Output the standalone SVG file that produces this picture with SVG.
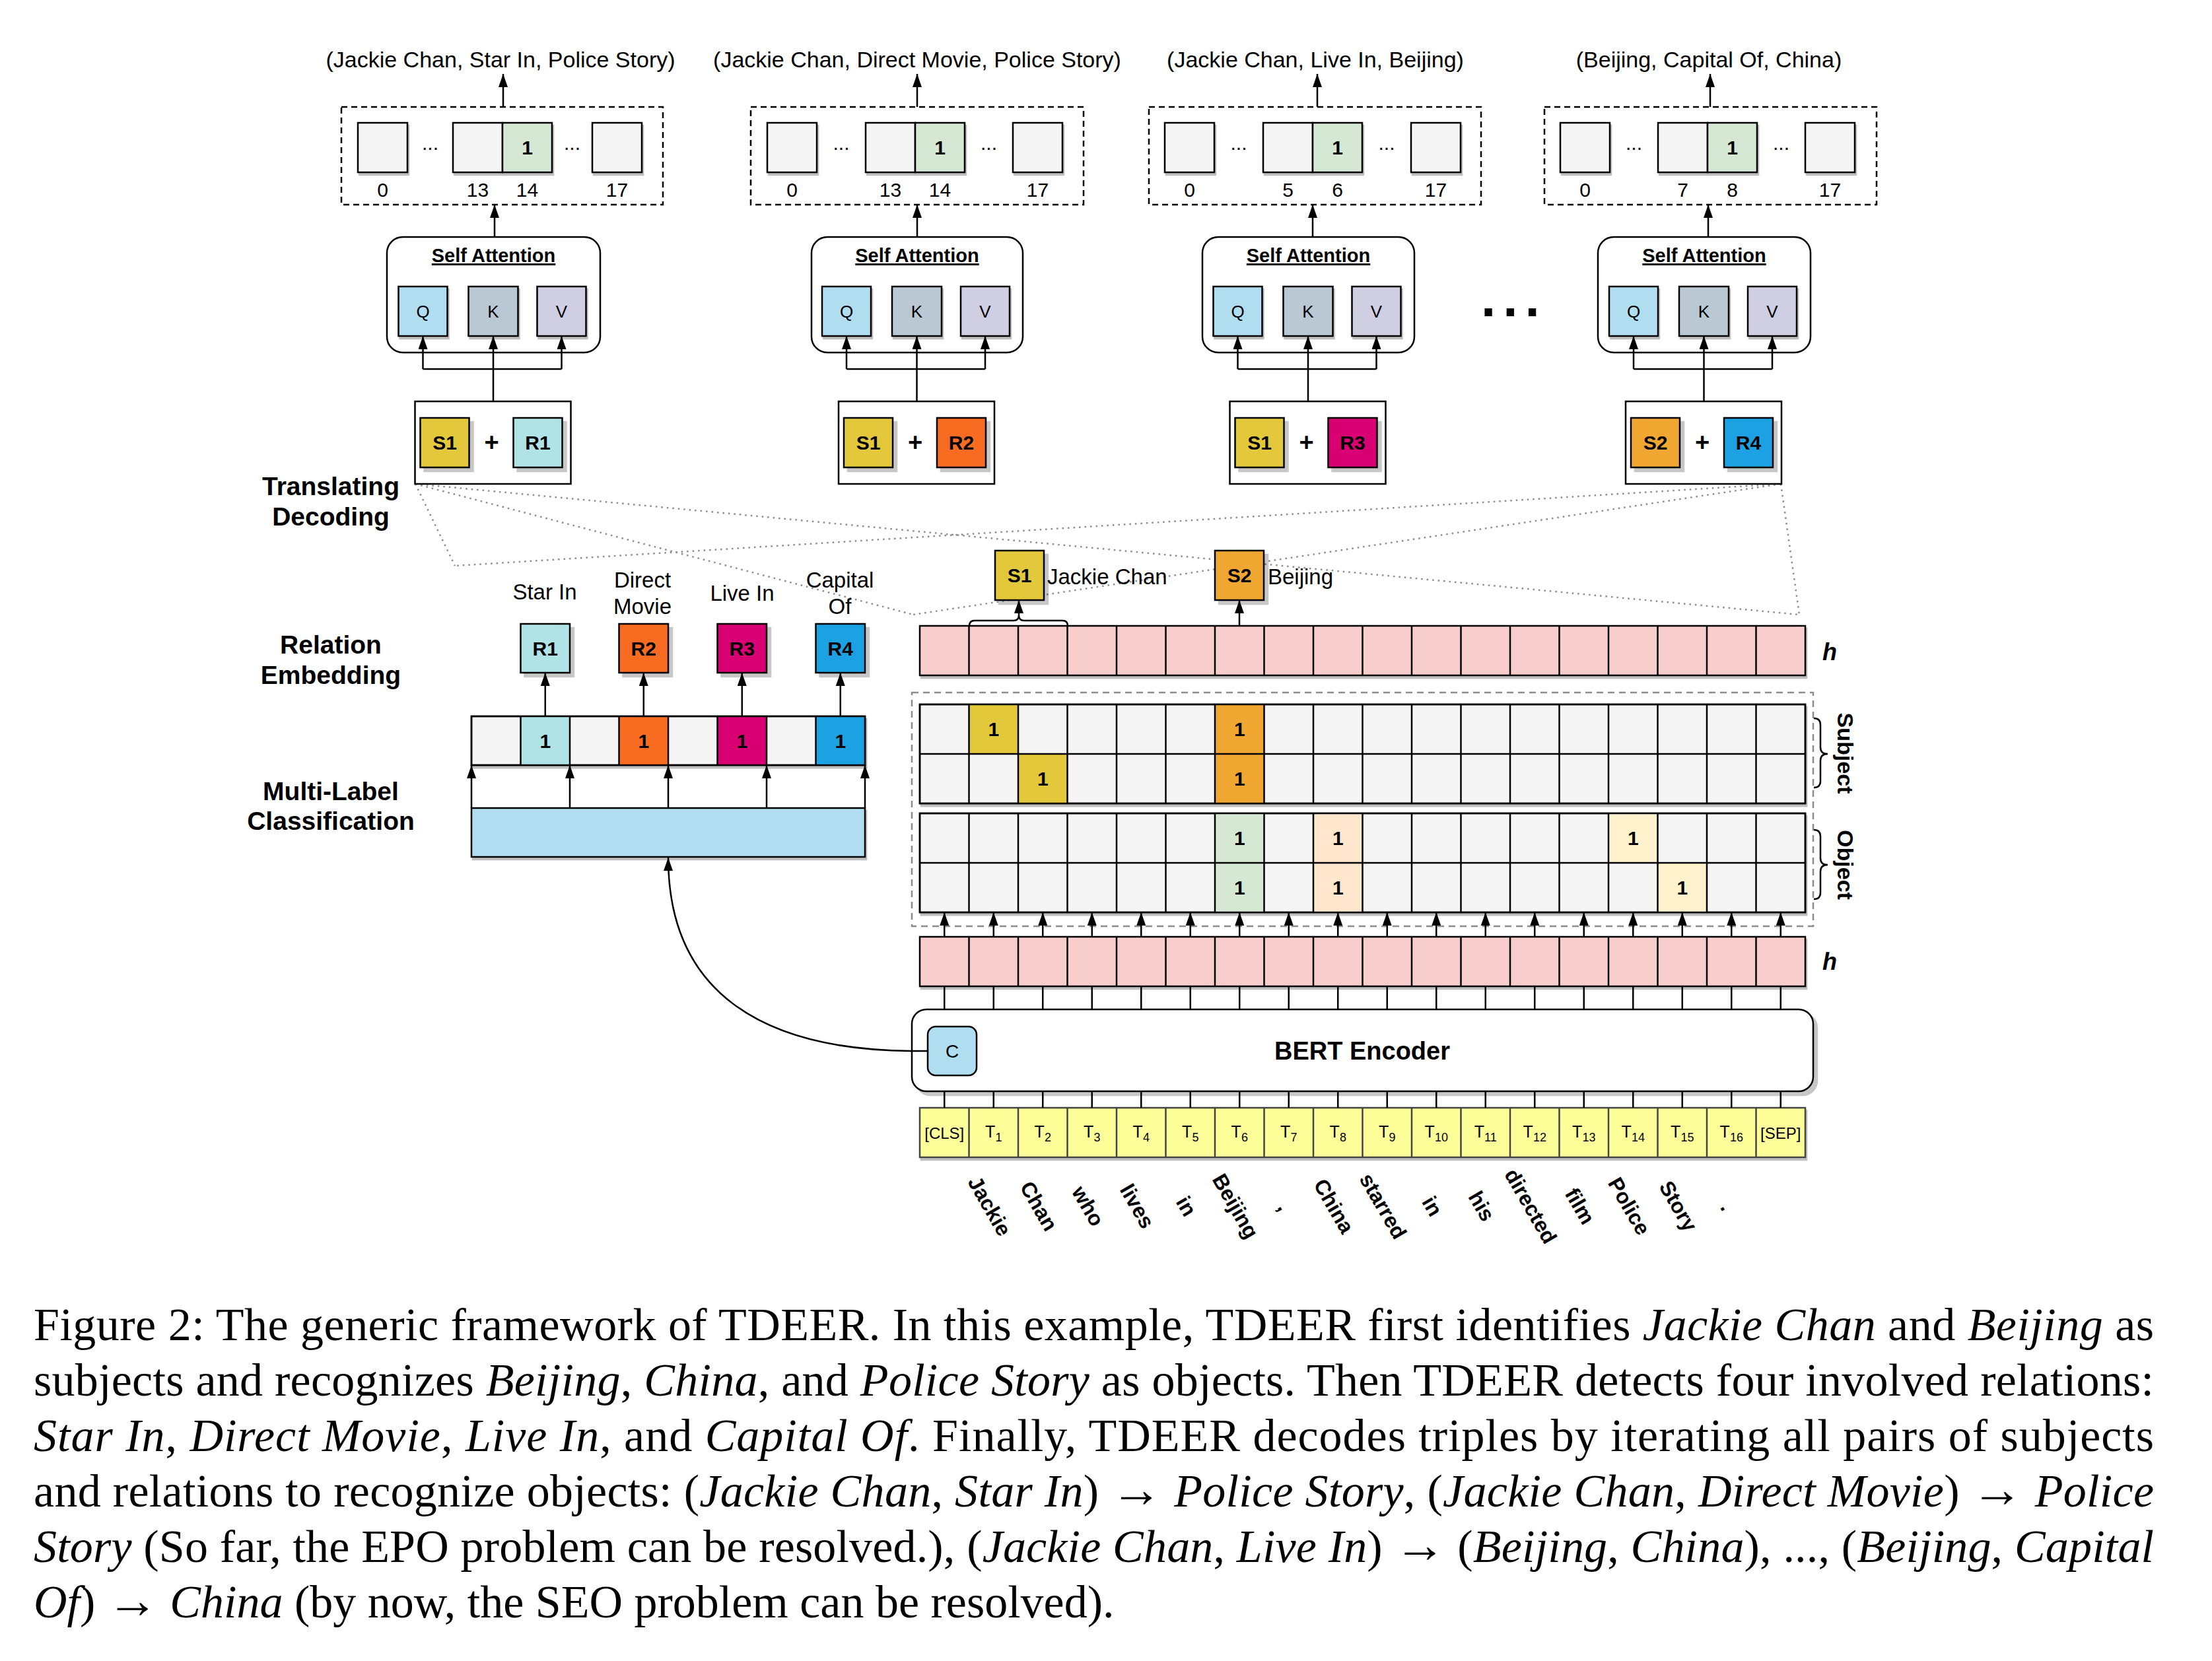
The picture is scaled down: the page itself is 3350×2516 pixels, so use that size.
<svg xmlns="http://www.w3.org/2000/svg" width="3350" height="2516" viewBox="0 0 3350 2516">
<defs>
<marker id="ah" markerWidth="20" markerHeight="14" refX="20" refY="7" orient="auto" markerUnits="userSpaceOnUse"><path d="M0,0 L20,7 L0,14 z" fill="#000"/></marker>
<filter id="sh" x="-20%" y="-20%" width="150%" height="150%"><feOffset in="SourceAlpha" dx="6" dy="6" result="o"/><feFlood flood-color="#000" flood-opacity="0.22"/><feComposite in2="o" operator="in"/><feMerge><feMergeNode/><feMergeNode in="SourceGraphic"/></feMerge></filter>
<filter id="sh2" x="-5%" y="-20%" width="110%" height="150%"><feOffset in="SourceAlpha" dx="2" dy="4" result="o"/><feFlood flood-color="#000" flood-opacity="0.25"/><feComposite in2="o" operator="in"/><feMerge><feMergeNode/><feMergeNode in="SourceGraphic"/></feMerge></filter>
</defs>
<style>
.t{font-family:"Liberation Sans",Arial,sans-serif;fill:#000}
.b{font-weight:bold}
.m{text-anchor:middle}
.c{stroke:#000;stroke-width:2.5;fill:none}
.a{stroke:#000;stroke-width:2.5;fill:none;marker-end:url(#ah)}
.cell{fill:#f5f5f5;stroke:#000;stroke-width:2.5}
.box{stroke:#000;stroke-width:2.5}
.dash{fill:none;stroke:#000;stroke-width:2.5;stroke-dasharray:9 6}
.dot{stroke:#8c8c8c;stroke-width:2.5;stroke-dasharray:2.5 6;fill:none}
.cap{font-family:"Liberation Serif","Times New Roman",serif;font-size:70px;fill:#000}
.i{font-style:italic}
.ar{font-size:78px}
</style>
<rect x="0" y="0" width="3350" height="2516" fill="#fff"/>

<!-- dotted projection lines -->
<g id="projection">
<path class="dot" d="M629,733L689,857M629,733L1383,931M629,733L2725,931M2697,733L689,857M2697,733L1383,931M2697,733L2725,931"/>
</g>

<!-- ===== Column 1 ===== -->
<g id="triple1"><text class="t m" x="758" y="102" font-size="34">(Jackie Chan, Star In, Police Story)</text></g>
<g id="decode1">
<rect class="dash" x="517" y="162" width="487" height="148"/>
<g filter="url(#sh2)">
<rect class="cell" x="542" y="186" width="75" height="75"/>
<rect class="cell" x="686" y="186" width="75" height="75"/>
<rect class="box" x="761" y="186" width="75" height="75" fill="#d5e8d4"/>
<rect class="cell" x="897" y="186" width="75" height="75"/>
</g>
<text class="t m b" x="798.5" y="234" font-size="30">1</text>
<text class="t m" x="651.5" y="227" font-size="30">...</text>
<text class="t m" x="866.5" y="227" font-size="30">...</text>
<text class="t m" x="579.5" y="298" font-size="30">0</text>
<text class="t m" x="723.5" y="298" font-size="30">13</text>
<text class="t m" x="798.5" y="298" font-size="30">14</text>
<text class="t m" x="934.5" y="298" font-size="30">17</text>
</g>
<g id="sa1">
<rect class="box" x="586" y="359" width="323" height="175" rx="24" fill="#fff"/>
<text class="t m b" x="747.5" y="397" font-size="29" text-decoration="underline">Self Attention</text>
<g filter="url(#sh2)">
<rect class="box" x="603.5" y="434" width="74" height="75" fill="#b1ddf0"/>
<rect class="box" x="709.5" y="434" width="75" height="75" fill="#bac8d3"/>
<rect class="box" x="813.5" y="434" width="74" height="75" fill="#d0cee2"/>
</g>
<text class="t m" x="640.5" y="481" font-size="26">Q</text>
<text class="t m" x="747" y="481" font-size="26">K</text>
<text class="t m" x="850.5" y="481" font-size="26">V</text>
</g>
<g id="in1">
<rect class="box" x="628.5" y="608" width="236" height="125" fill="#fff"/>
<rect class="box" x="636.5" y="633" width="74" height="75" fill="#e3c83a" filter="url(#sh)"/>
<rect class="box" x="777.5" y="633" width="74" height="75" fill="#b0e3e6" filter="url(#sh)"/>
<text class="t m b" x="673.5" y="681" font-size="30">S1</text>
<text class="t m b" x="744.5" y="683" font-size="38">+</text>
<text class="t m b" x="814.5" y="681" font-size="30">R1</text>
</g>

<!-- ===== Column 2 ===== -->
<g id="triple2"><text class="t m" x="1389" y="102" font-size="34">(Jackie Chan, Direct Movie, Police Story)</text></g>
<g id="decode2">
<rect class="dash" x="1137" y="162" width="504" height="148"/>
<g filter="url(#sh2)">
<rect class="cell" x="1162" y="186" width="75" height="75"/>
<rect class="cell" x="1311" y="186" width="75" height="75"/>
<rect class="box" x="1386" y="186" width="75" height="75" fill="#d5e8d4"/>
<rect class="cell" x="1534" y="186" width="75" height="75"/>
</g>
<text class="t m b" x="1423.5" y="234" font-size="30">1</text>
<text class="t m" x="1274" y="227" font-size="30">...</text>
<text class="t m" x="1497.5" y="227" font-size="30">...</text>
<text class="t m" x="1199.5" y="298" font-size="30">0</text>
<text class="t m" x="1348.5" y="298" font-size="30">13</text>
<text class="t m" x="1423.5" y="298" font-size="30">14</text>
<text class="t m" x="1571.5" y="298" font-size="30">17</text>
</g>
<g id="sa2">
<rect class="box" x="1229" y="359" width="320" height="175" rx="24" fill="#fff"/>
<text class="t m b" x="1389" y="397" font-size="29" text-decoration="underline">Self Attention</text>
<g filter="url(#sh2)">
<rect class="box" x="1245" y="434" width="74" height="75" fill="#b1ddf0"/>
<rect class="box" x="1351" y="434" width="75" height="75" fill="#bac8d3"/>
<rect class="box" x="1455" y="434" width="74" height="75" fill="#d0cee2"/>
</g>
<text class="t m" x="1282" y="481" font-size="26">Q</text>
<text class="t m" x="1388.5" y="481" font-size="26">K</text>
<text class="t m" x="1492" y="481" font-size="26">V</text>
</g>
<g id="in2">
<rect class="box" x="1270" y="608" width="236" height="125" fill="#fff"/>
<rect class="box" x="1278" y="633" width="74" height="75" fill="#e3c83a" filter="url(#sh)"/>
<rect class="box" x="1419" y="633" width="74" height="75" fill="#f86c24" filter="url(#sh)"/>
<text class="t m b" x="1315" y="681" font-size="30">S1</text>
<text class="t m b" x="1386" y="683" font-size="38">+</text>
<text class="t m b" x="1456" y="681" font-size="30">R2</text>
</g>

<!-- ===== Column 3 ===== -->
<g id="triple3"><text class="t m" x="1992" y="102" font-size="34">(Jackie Chan, Live In, Beijing)</text></g>
<g id="decode3">
<rect class="dash" x="1740" y="162" width="503" height="148"/>
<g filter="url(#sh2)">
<rect class="cell" x="1764" y="186" width="75" height="75"/>
<rect class="cell" x="1913" y="186" width="75" height="75"/>
<rect class="box" x="1988" y="186" width="75" height="75" fill="#d5e8d4"/>
<rect class="cell" x="2137" y="186" width="75" height="75"/>
</g>
<text class="t m b" x="2025.5" y="234" font-size="30">1</text>
<text class="t m" x="1876" y="227" font-size="30">...</text>
<text class="t m" x="2100" y="227" font-size="30">...</text>
<text class="t m" x="1801.5" y="298" font-size="30">0</text>
<text class="t m" x="1950.5" y="298" font-size="30">5</text>
<text class="t m" x="2025.5" y="298" font-size="30">6</text>
<text class="t m" x="2174.5" y="298" font-size="30">17</text>
</g>
<g id="sa3">
<rect class="box" x="1821" y="359" width="321" height="175" rx="24" fill="#fff"/>
<text class="t m b" x="1981.5" y="397" font-size="29" text-decoration="underline">Self Attention</text>
<g filter="url(#sh2)">
<rect class="box" x="1837.5" y="434" width="74" height="75" fill="#b1ddf0"/>
<rect class="box" x="1943.5" y="434" width="75" height="75" fill="#bac8d3"/>
<rect class="box" x="2047.5" y="434" width="74" height="75" fill="#d0cee2"/>
</g>
<text class="t m" x="1874.5" y="481" font-size="26">Q</text>
<text class="t m" x="1981" y="481" font-size="26">K</text>
<text class="t m" x="2084.5" y="481" font-size="26">V</text>
</g>
<g id="in3">
<rect class="box" x="1862.5" y="608" width="236" height="125" fill="#fff"/>
<rect class="box" x="1870.5" y="633" width="74" height="75" fill="#e3c83a" filter="url(#sh)"/>
<rect class="box" x="2011.5" y="633" width="74" height="75" fill="#d80073" filter="url(#sh)"/>
<text class="t m b" x="1907.5" y="681" font-size="30">S1</text>
<text class="t m b" x="1978.5" y="683" font-size="38">+</text>
<text class="t m b" x="2048.5" y="681" font-size="30">R3</text>
</g>

<g id="ellipsis"><text class="t b" x="2243" y="479" font-size="80" letter-spacing="11">...</text></g>

<!-- ===== Column 4 ===== -->
<g id="triple4"><text class="t m" x="2588" y="102" font-size="34">(Beijing, Capital Of, China)</text></g>
<g id="decode4">
<rect class="dash" x="2339" y="162" width="503" height="148"/>
<g filter="url(#sh2)">
<rect class="cell" x="2363" y="186" width="75" height="75"/>
<rect class="cell" x="2511" y="186" width="75" height="75"/>
<rect class="box" x="2586" y="186" width="75" height="75" fill="#d5e8d4"/>
<rect class="cell" x="2734" y="186" width="75" height="75"/>
</g>
<text class="t m b" x="2623.5" y="234" font-size="30">1</text>
<text class="t m" x="2474.5" y="227" font-size="30">...</text>
<text class="t m" x="2697.5" y="227" font-size="30">...</text>
<text class="t m" x="2400.5" y="298" font-size="30">0</text>
<text class="t m" x="2548.5" y="298" font-size="30">7</text>
<text class="t m" x="2623.5" y="298" font-size="30">8</text>
<text class="t m" x="2771.5" y="298" font-size="30">17</text>
</g>
<g id="sa4">
<rect class="box" x="2420" y="359" width="322" height="175" rx="24" fill="#fff"/>
<text class="t m b" x="2581" y="397" font-size="29" text-decoration="underline">Self Attention</text>
<g filter="url(#sh2)">
<rect class="box" x="2437" y="434" width="74" height="75" fill="#b1ddf0"/>
<rect class="box" x="2543" y="434" width="75" height="75" fill="#bac8d3"/>
<rect class="box" x="2647" y="434" width="74" height="75" fill="#d0cee2"/>
</g>
<text class="t m" x="2474" y="481" font-size="26">Q</text>
<text class="t m" x="2580.5" y="481" font-size="26">K</text>
<text class="t m" x="2684" y="481" font-size="26">V</text>
</g>
<g id="in4">
<rect class="box" x="2462" y="608" width="236" height="125" fill="#fff"/>
<rect class="box" x="2470" y="633" width="74" height="75" fill="#f0a732" filter="url(#sh)"/>
<rect class="box" x="2611" y="633" width="74" height="75" fill="#1ba1e2" filter="url(#sh)"/>
<text class="t m b" x="2507" y="681" font-size="30">S2</text>
<text class="t m b" x="2578" y="683" font-size="38">+</text>
<text class="t m b" x="2648" y="681" font-size="30">R4</text>
</g>

<!-- ===== Left labels ===== -->
<g id="lbl_td"><text class="t m b" x="501" y="750" font-size="39">Translating</text><text class="t m b" x="501" y="796" font-size="39">Decoding</text></g>
<g id="lbl_re"><text class="t m b" x="501" y="990" font-size="39">Relation</text><text class="t m b" x="501" y="1036" font-size="39">Embedding</text></g>
<g id="lbl_mlc"><text class="t m b" x="501" y="1212" font-size="39">Multi-Label</text><text class="t m b" x="501" y="1257" font-size="39">Classification</text></g>

<!-- relation names -->
<g id="relnames">
<text class="t m" x="825" y="908" font-size="33">Star In</text>
<text class="t m" x="973" y="890" font-size="33">Direct</text>
<text class="t m" x="973" y="930" font-size="33">Movie</text>
<text class="t m" x="1124" y="910" font-size="33">Live In</text>
<text class="t m" x="1272" y="890" font-size="33">Capital</text>
<text class="t m" x="1272" y="930" font-size="33">Of</text>
</g>
<g id="relemb">
<rect class="box" x="788.5" y="945" width="74.5" height="74" fill="#b0e3e6" filter="url(#sh)"/>
<rect class="box" x="937.5" y="945" width="74.5" height="74" fill="#f86c24" filter="url(#sh)"/>
<rect class="box" x="1086.5" y="945" width="74.5" height="74" fill="#d80073" filter="url(#sh)"/>
<rect class="box" x="1235.5" y="945" width="74.5" height="74" fill="#1ba1e2" filter="url(#sh)"/>
<text class="t m b" x="825.75" y="993" font-size="30">R1</text>
<text class="t m b" x="974.75" y="993" font-size="30">R2</text>
<text class="t m b" x="1123.75" y="993" font-size="30">R3</text>
<text class="t m b" x="1272.75" y="993" font-size="30">R4</text>
</g>
<g id="mlrow">
<g filter="url(#sh2)">
<rect class="cell" x="714" y="1085" width="596" height="74"/>
<rect x="788.5" y="1085" width="74.5" height="74" fill="#b0e3e6"/>
<rect x="937.5" y="1085" width="74.5" height="74" fill="#f86c24"/>
<rect x="1086.5" y="1085" width="74.5" height="74" fill="#d80073"/>
<rect x="1235.5" y="1085" width="74.5" height="74" fill="#1ba1e2"/>
<rect x="714" y="1085" width="596" height="74" fill="none" stroke="#000" stroke-width="2.5"/>
<path class="c" d="M788.5,1085v74M863,1085v74M937.5,1085v74M1012,1085v74M1086.5,1085v74M1161,1085v74M1235.5,1085v74"/>
</g>
<text class="t m b" x="825.75" y="1133" font-size="30">1</text>
<text class="t m b" x="974.75" y="1133" font-size="30">1</text>
<text class="t m b" x="1123.75" y="1133" font-size="30">1</text>
<text class="t m b" x="1272.75" y="1133" font-size="30">1</text>
</g>
<g id="clsbar"><rect class="box" x="714" y="1224" width="596" height="74" fill="#b1ddf0" filter="url(#sh2)"/></g>

<!-- ===== Right section ===== -->
<g id="subj1">
<rect class="box" x="1507" y="834" width="74" height="75" fill="#e3c83a" filter="url(#sh)"/>
<text class="t m b" x="1544" y="882" font-size="30">S1</text>
<text class="t" x="1586" y="885" font-size="33">Jackie Chan</text>
</g>
<g id="subj2">
<rect class="box" x="1840" y="834" width="74" height="75" fill="#f0a732" filter="url(#sh)"/>
<text class="t m b" x="1877" y="882" font-size="30">S2</text>
<text class="t" x="1920" y="885" font-size="33">Beijing</text>
</g>

<g id="h_top">
<g filter="url(#sh2)">
<rect class="box" x="1393" y="948" width="1341" height="75" fill="#f8cecc"/>
<path class="c" d="M1467.5,948v75m74.5-75v75m74.5-75v75m74.5-75v75m74.5-75v75m74.5-75v75m74.5-75v75m74.5-75v75m74.5-75v75m74.5-75v75m74.5-75v75m74.5-75v75m74.5-75v75m74.5-75v75m74.5-75v75m74.5-75v75m74.5-75v75"/>
</g>
<text class="t m b" x="2771" y="1000" font-size="36" font-style="italic">h</text>
</g>

<g id="tagger">
<rect x="1381" y="1049" width="1365" height="354" fill="none" stroke="#8c8c8c" stroke-width="2.5" stroke-dasharray="10 7"/>
<g id="subjgrid" filter="url(#sh2)">
<rect class="cell" x="1393" y="1067" width="1341" height="150"/>
<rect x="1467.5" y="1067" width="74.5" height="75" fill="#e3c83a"/>
<rect x="1840" y="1067" width="74.5" height="150" fill="#f0a732"/>
<rect x="1542" y="1142" width="74.5" height="75" fill="#e3c83a"/>
<rect x="1393" y="1067" width="1341" height="150" fill="none" stroke="#000" stroke-width="2.5"/>
<path class="c" d="M1393,1142H2734M1467.5,1067v150m74.5-150v150m74.5-150v150m74.5-150v150m74.5-150v150m74.5-150v150m74.5-150v150m74.5-150v150m74.5-150v150m74.5-150v150m74.5-150v150m74.5-150v150m74.5-150v150m74.5-150v150m74.5-150v150m74.5-150v150m74.5-150v150"/>
</g>
<g id="objgrid" filter="url(#sh2)">
<rect class="cell" x="1393" y="1232" width="1341" height="150"/>
<rect x="1840" y="1232" width="74.5" height="150" fill="#d5e8d4"/>
<rect x="1989" y="1232" width="74.5" height="150" fill="#ffe6cc"/>
<rect x="2436" y="1232" width="74.5" height="75" fill="#fff2cc"/>
<rect x="2510.5" y="1307" width="74.5" height="75" fill="#fff2cc"/>
<rect x="1393" y="1232" width="1341" height="150" fill="none" stroke="#000" stroke-width="2.5"/>
<path class="c" d="M1393,1307H2734M1467.5,1232v150m74.5-150v150m74.5-150v150m74.5-150v150m74.5-150v150m74.5-150v150m74.5-150v150m74.5-150v150m74.5-150v150m74.5-150v150m74.5-150v150m74.5-150v150m74.5-150v150m74.5-150v150m74.5-150v150m74.5-150v150m74.5-150v150"/>
</g>
<g class="t m b" font-size="30">
<text x="1504.75" y="1115">1</text>
<text x="1877.25" y="1115">1</text>
<text x="1579.25" y="1190">1</text>
<text x="1877.25" y="1190">1</text>
<text x="1877.25" y="1280">1</text>
<text x="2026.25" y="1280">1</text>
<text x="2473.25" y="1280">1</text>
<text x="1877.25" y="1355">1</text>
<text x="2026.25" y="1355">1</text>
<text x="2547.75" y="1355">1</text>
</g>
</g>

<g id="braces">
<path class="c" d="M2747,1088Q2757,1088 2757,1098L2757,1132Q2757,1142 2768,1142Q2757,1142 2757,1152L2757,1183Q2757,1193 2747,1193"/>
<path class="c" d="M2747,1257Q2757,1257 2757,1267L2757,1300Q2757,1310 2768,1310Q2757,1310 2757,1320L2757,1352Q2757,1362 2747,1362"/>
<text class="t m b" font-size="34" dominant-baseline="central" transform="translate(2795,1141) rotate(90)">Subject</text>
<text class="t m b" font-size="34" dominant-baseline="central" transform="translate(2795,1310) rotate(90)">Object</text>
</g>

<g id="h_bottom">
<g filter="url(#sh2)">
<rect class="box" x="1393" y="1419" width="1341" height="75" fill="#f8cecc"/>
<path class="c" d="M1467.5,1419v75m74.5-75v75m74.5-75v75m74.5-75v75m74.5-75v75m74.5-75v75m74.5-75v75m74.5-75v75m74.5-75v75m74.5-75v75m74.5-75v75m74.5-75v75m74.5-75v75m74.5-75v75m74.5-75v75m74.5-75v75m74.5-75v75"/>
</g>
<text class="t m b" x="2771" y="1469" font-size="36" font-style="italic">h</text>
</g>

<g id="bert">
<rect class="box" x="1381" y="1529" width="1365" height="124" rx="22" fill="#fff" filter="url(#sh)"/>
<text class="t m b" x="2063" y="1605" font-size="38">BERT Encoder</text>
</g>
<g id="cls_vec">
<rect class="box" x="1405" y="1555" width="74" height="74" rx="12" fill="#b1ddf0"/>
<text class="t m" x="1442" y="1602" font-size="28">C</text>
</g>

<g id="tokens">
<g filter="url(#sh2)">
<rect x="1393" y="1678" width="1341" height="75" fill="#ffff99" stroke="#444" stroke-width="2.5"/>
<path d="M1467.5,1678v75m74.5-75v75m74.5-75v75m74.5-75v75m74.5-75v75m74.5-75v75m74.5-75v75m74.5-75v75m74.5-75v75m74.5-75v75m74.5-75v75m74.5-75v75m74.5-75v75m74.5-75v75m74.5-75v75m74.5-75v75m74.5-75v75" stroke="#444" stroke-width="2.5" fill="none"/>
</g>
<g class="t m" font-size="25">
<text x="1430.25" y="1725" font-size="24">[CLS]</text>
<text x="1504.75" y="1723">T<tspan font-size="18" dy="6">1</tspan></text>
<text x="1579.25" y="1723">T<tspan font-size="18" dy="6">2</tspan></text>
<text x="1653.75" y="1723">T<tspan font-size="18" dy="6">3</tspan></text>
<text x="1728.25" y="1723">T<tspan font-size="18" dy="6">4</tspan></text>
<text x="1802.75" y="1723">T<tspan font-size="18" dy="6">5</tspan></text>
<text x="1877.25" y="1723">T<tspan font-size="18" dy="6">6</tspan></text>
<text x="1951.75" y="1723">T<tspan font-size="18" dy="6">7</tspan></text>
<text x="2026.25" y="1723">T<tspan font-size="18" dy="6">8</tspan></text>
<text x="2100.75" y="1723">T<tspan font-size="18" dy="6">9</tspan></text>
<text x="2175.25" y="1723">T<tspan font-size="18" dy="6">10</tspan></text>
<text x="2249.75" y="1723">T<tspan font-size="18" dy="6">11</tspan></text>
<text x="2324.25" y="1723">T<tspan font-size="18" dy="6">12</tspan></text>
<text x="2398.75" y="1723">T<tspan font-size="18" dy="6">13</tspan></text>
<text x="2473.25" y="1723">T<tspan font-size="18" dy="6">14</tspan></text>
<text x="2547.75" y="1723">T<tspan font-size="18" dy="6">15</tspan></text>
<text x="2622.25" y="1723">T<tspan font-size="18" dy="6">16</tspan></text>
<text x="2696.75" y="1725" font-size="24">[SEP]</text>
</g>
</g>

<g id="words" class="t m b" font-size="32">
<text dominant-baseline="central" transform="translate(1498.75,1827) rotate(60)">Jackie</text>
<text dominant-baseline="central" transform="translate(1573.25,1827) rotate(60)">Chan</text>
<text dominant-baseline="central" transform="translate(1647.75,1827) rotate(60)">who</text>
<text dominant-baseline="central" transform="translate(1722.25,1827) rotate(60)">lives</text>
<text dominant-baseline="central" transform="translate(1796.75,1827) rotate(60)">in</text>
<text dominant-baseline="central" transform="translate(1871.25,1827) rotate(60)">Beijing</text>
<text dominant-baseline="central" transform="translate(1945.75,1827) rotate(60)">,</text>
<text dominant-baseline="central" transform="translate(2020.25,1827) rotate(60)">China</text>
<text dominant-baseline="central" transform="translate(2094.75,1827) rotate(60)">starred</text>
<text dominant-baseline="central" transform="translate(2169.25,1827) rotate(60)">in</text>
<text dominant-baseline="central" transform="translate(2243.75,1827) rotate(60)">his</text>
<text dominant-baseline="central" transform="translate(2318.25,1827) rotate(60)">directed</text>
<text dominant-baseline="central" transform="translate(2392.75,1827) rotate(60)">film</text>
<text dominant-baseline="central" transform="translate(2467.25,1827) rotate(60)">Police</text>
<text dominant-baseline="central" transform="translate(2541.75,1827) rotate(60)">Story</text>
<text dominant-baseline="central" transform="translate(2616.25,1827) rotate(60)">.</text>
</g>

<!-- ===== Connectors ===== -->
<g id="connectors">
<line class="a" x1="762" y1="162" x2="762" y2="112"/>
<line class="a" x1="749" y1="359" x2="749" y2="310"/>
<path class="c" d="M640.5,559H850.5"/>
<line class="a" x1="640.5" y1="559" x2="640.5" y2="509"/>
<line class="a" x1="850.5" y1="559" x2="850.5" y2="509"/>
<line class="a" x1="747" y1="608" x2="747" y2="509"/>

<line class="a" x1="1389" y1="162" x2="1389" y2="112"/>
<line class="a" x1="1389" y1="359" x2="1389" y2="310"/>
<path class="c" d="M1282,559H1492"/>
<line class="a" x1="1282" y1="559" x2="1282" y2="509"/>
<line class="a" x1="1492" y1="559" x2="1492" y2="509"/>
<line class="a" x1="1388.5" y1="608" x2="1388.5" y2="509"/>

<line class="a" x1="1995" y1="162" x2="1995" y2="112"/>
<line class="a" x1="1988" y1="359" x2="1988" y2="310"/>
<path class="c" d="M1874.5,559H2084.5"/>
<line class="a" x1="1874.5" y1="559" x2="1874.5" y2="509"/>
<line class="a" x1="2084.5" y1="559" x2="2084.5" y2="509"/>
<line class="a" x1="1981" y1="608" x2="1981" y2="509"/>

<line class="a" x1="2590" y1="162" x2="2590" y2="112"/>
<line class="a" x1="2587" y1="359" x2="2587" y2="310"/>
<path class="c" d="M2474,559H2684"/>
<line class="a" x1="2474" y1="559" x2="2474" y2="509"/>
<line class="a" x1="2684" y1="559" x2="2684" y2="509"/>
<line class="a" x1="2580.5" y1="608" x2="2580.5" y2="509"/>

<line class="a" x1="825.75" y1="1085" x2="825.75" y2="1019"/>
<line class="a" x1="974.75" y1="1085" x2="974.75" y2="1019"/>
<line class="a" x1="1123.75" y1="1085" x2="1123.75" y2="1019"/>
<line class="a" x1="1272.75" y1="1085" x2="1272.75" y2="1019"/>
<line class="a" x1="714" y1="1224" x2="714" y2="1159"/>
<line class="a" x1="863" y1="1224" x2="863" y2="1159"/>
<line class="a" x1="1012" y1="1224" x2="1012" y2="1159"/>
<line class="a" x1="1161" y1="1224" x2="1161" y2="1159"/>
<line class="a" x1="1310" y1="1224" x2="1310" y2="1159"/>
<path class="a" d="M1405,1592L1380,1592C1150,1590 1012,1500 1012,1299"/>

<path class="c" d="M1468,948Q1468,940 1476,940L1535,940Q1543,940 1543,932Q1543,940 1551,940L1609,940Q1617,940 1617,948"/>
<line class="a" x1="1543" y1="932" x2="1543" y2="909"/>
<line class="a" x1="1877" y1="948" x2="1877" y2="909"/>

<line class="a" x1="1430.25" y1="1419" x2="1430.25" y2="1382"/>
<line class="a" x1="1504.75" y1="1419" x2="1504.75" y2="1382"/>
<line class="a" x1="1579.25" y1="1419" x2="1579.25" y2="1382"/>
<line class="a" x1="1653.75" y1="1419" x2="1653.75" y2="1382"/>
<line class="a" x1="1728.25" y1="1419" x2="1728.25" y2="1382"/>
<line class="a" x1="1802.75" y1="1419" x2="1802.75" y2="1382"/>
<line class="a" x1="1877.25" y1="1419" x2="1877.25" y2="1382"/>
<line class="a" x1="1951.75" y1="1419" x2="1951.75" y2="1382"/>
<line class="a" x1="2026.25" y1="1419" x2="2026.25" y2="1382"/>
<line class="a" x1="2100.75" y1="1419" x2="2100.75" y2="1382"/>
<line class="a" x1="2175.25" y1="1419" x2="2175.25" y2="1382"/>
<line class="a" x1="2249.75" y1="1419" x2="2249.75" y2="1382"/>
<line class="a" x1="2324.25" y1="1419" x2="2324.25" y2="1382"/>
<line class="a" x1="2398.75" y1="1419" x2="2398.75" y2="1382"/>
<line class="a" x1="2473.25" y1="1419" x2="2473.25" y2="1382"/>
<line class="a" x1="2547.75" y1="1419" x2="2547.75" y2="1382"/>
<line class="a" x1="2622.25" y1="1419" x2="2622.25" y2="1382"/>
<line class="a" x1="2696.75" y1="1419" x2="2696.75" y2="1382"/>

<path class="c" d="M1430.25,1494v35m74.5-35v35m74.5-35v35m74.5-35v35m74.5-35v35m74.5-35v35m74.5-35v35m74.5-35v35m74.5-35v35m74.5-35v35m74.5-35v35m74.5-35v35m74.5-35v35m74.5-35v35m74.5-35v35m74.5-35v35m74.5-35v35m74.5-35v35"/>
<path class="c" d="M1430.25,1653v25m74.5-25v25m74.5-25v25m74.5-25v25m74.5-25v25m74.5-25v25m74.5-25v25m74.5-25v25m74.5-25v25m74.5-25v25m74.5-25v25m74.5-25v25m74.5-25v25m74.5-25v25m74.5-25v25m74.5-25v25m74.5-25v25m74.5-25v25"/>
</g>

<!-- ===== Caption ===== -->
<g id="caption">
<text class="cap" x="51" y="2030" textLength="3211" lengthAdjust="spacing">Figure 2: The generic framework of TDEER. In this example, TDEER first identifies <tspan class="i">Jackie Chan</tspan> and <tspan class="i">Beijing</tspan> as</text>
<text class="cap" x="51" y="2114" textLength="3211" lengthAdjust="spacing">subjects and recognizes <tspan class="i">Beijing</tspan>, <tspan class="i">China</tspan>, and <tspan class="i">Police Story</tspan> as objects. Then TDEER detects four involved relations:</text>
<text class="cap" x="51" y="2198" textLength="3211" lengthAdjust="spacing"><tspan class="i">Star In</tspan>, <tspan class="i">Direct Movie</tspan>, <tspan class="i">Live In</tspan>, and <tspan class="i">Capital Of</tspan>. Finally, TDEER decodes triples by iterating all pairs of subjects</text>
<text class="cap" x="51" y="2282" textLength="3211" lengthAdjust="spacing">and relations to recognize objects: (<tspan class="i">Jackie Chan</tspan>, <tspan class="i">Star In</tspan>) <tspan class="ar">→</tspan> <tspan class="i">Police Story</tspan>, (<tspan class="i">Jackie Chan</tspan>, <tspan class="i">Direct Movie</tspan>) <tspan class="ar">→</tspan> <tspan class="i">Police</tspan></text>
<text class="cap" x="51" y="2366" textLength="3211" lengthAdjust="spacing"><tspan class="i">Story</tspan> (So far, the EPO problem can be resolved.), (<tspan class="i">Jackie Chan</tspan>, <tspan class="i">Live In</tspan>) <tspan class="ar">→</tspan> (<tspan class="i">Beijing</tspan>, <tspan class="i">China</tspan>), ..., (<tspan class="i">Beijing</tspan>, <tspan class="i">Capital</tspan></text>
<text class="cap" x="51" y="2450"><tspan class="i">Of</tspan>) <tspan class="ar">→</tspan> <tspan class="i">China</tspan> (by now, the SEO problem can be resolved).</text>
</g>
</svg>
